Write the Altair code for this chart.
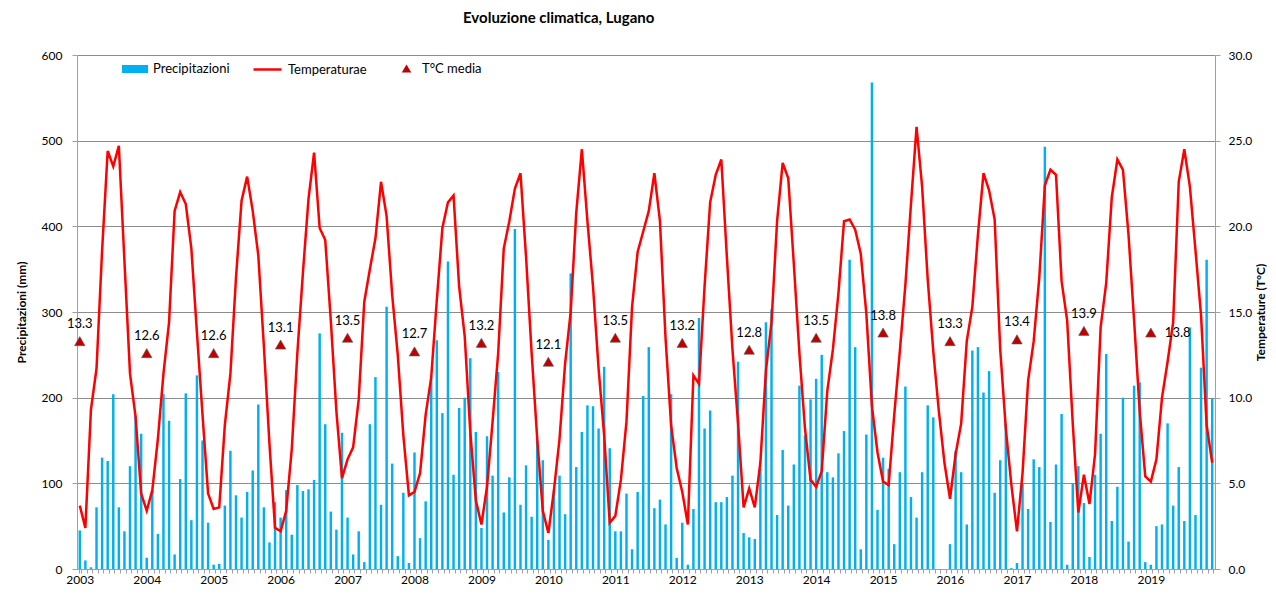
import altair as alt
import pandas as pd

years = list(range(2003, 2020))

# Monthly precipitation (mm)
p2003 = [45, 10, 2, 72, 130, 126, 204, 72, 44, 120, 179, 158]
p2004 = [13, 92, 41, 204, 173, 17, 105, 205, 57, 226, 150, 54]
p2005 = [5, 6, 74, 138, 86, 60, 90, 115, 192, 72, 31, 78]
p2006 = [60, 92, 40, 98, 91, 93, 104, 275, 169, 67, 46, 159]
p2007 = [60, 17, 44, 8, 169, 224, 75, 306, 123, 15, 89, 7]
p2008 = [136, 36, 79, 224, 267, 182, 359, 110, 188, 200, 246, 160]
p2009 = [48, 155, 109, 230, 66, 107, 397, 75, 121, 61, 150, 127]
p2010 = [34, 92, 109, 64, 345, 119, 160, 191, 190, 164, 236, 141]
p2011 = [44, 44, 88, 23, 90, 202, 259, 71, 81, 52, 204, 13]
p2012 = [54, 5, 70, 293, 164, 185, 78, 78, 84, 109, 242, 42]
p2013 = [37, 35, 117, 288, 303, 63, 139, 74, 122, 214, 156, 198]
p2014 = [222, 250, 113, 107, 135, 161, 361, 259, 23, 157, 568, 69]
p2015 = [130, 117, 29, 113, 213, 84, 60, 113, 191, 177, 0, 0]
p2016 = [29, 138, 113, 52, 255, 259, 206, 231, 89, 127, 170, 1]
p2017 = [7, 100, 70, 128, 119, 493, 55, 122, 181, 5, 100, 120]
p2018 = [77, 14, 110, 158, 251, 56, 96, 200, 32, 214, 218, 8]
p2019 = [5, 50, 52, 170, 74, 119, 56, 282, 63, 235, 361, 199]

# Monthly mean temperature (°C)
t2003 = [3.7, 2.4, 9.3, 11.7, 18.6, 24.4, 23.5, 24.7, 18.0, 11.4, 8.9, 4.4]
t2004 = [3.4, 4.6, 7.6, 11.4, 14.4, 20.9, 22.0, 21.3, 18.7, 13.8, 9.0, 4.4]
t2005 = [3.5, 3.6, 8.4, 11.4, 17.0, 21.5, 22.9, 20.9, 18.3, 13.0, 7.3, 2.4]
t2006 = [2.2, 3.4, 7.0, 12.6, 17.3, 21.6, 24.3, 19.9, 19.2, 14.5, 9.2, 5.3]
t2007 = [6.4, 7.1, 9.9, 15.6, 17.5, 19.3, 22.6, 20.6, 16.0, 12.5, 7.8, 4.3]
t2008 = [4.5, 5.6, 9.0, 11.2, 15.7, 19.9, 21.4, 21.8, 16.5, 13.6, 8.0, 4.0]
t2009 = [2.6, 4.8, 8.6, 12.6, 18.7, 20.3, 22.2, 23.1, 18.2, 12.6, 7.6, 3.4]
t2010 = [2.1, 4.6, 7.6, 12.0, 15.0, 20.8, 24.5, 20.3, 16.5, 11.7, 7.8, 2.7]
t2011 = [3.1, 5.2, 8.6, 15.3, 18.5, 19.7, 20.9, 23.1, 20.3, 13.5, 8.4, 5.9]
t2012 = [4.5, 2.6, 11.3, 10.8, 16.5, 21.4, 23.0, 23.9, 18.2, 12.8, 8.5, 3.6]
t2013 = [4.7, 3.6, 6.2, 11.6, 14.4, 20.3, 23.7, 22.8, 17.8, 12.6, 8.2, 5.2]
t2014 = [4.8, 5.7, 10.4, 12.8, 16.1, 20.3, 20.4, 19.8, 18.4, 14.9, 9.5, 6.8]
t2015 = [5.1, 4.9, 9.0, 12.7, 16.6, 21.3, 25.8, 22.3, 16.9, 12.7, 9.2, 6.2]
t2016 = [4.1, 6.7, 8.5, 13.3, 15.3, 19.5, 23.1, 22.1, 20.4, 12.8, 8.2, 4.9]
t2017 = [2.2, 5.6, 11.0, 13.3, 17.0, 22.4, 23.3, 23.0, 16.8, 14.5, 8.5, 3.3]
t2018 = [5.5, 3.8, 6.7, 14.1, 16.7, 21.7, 23.9, 23.3, 19.5, 14.5, 9.2, 5.4]
t2019 = [5.1, 6.4, 10.0, 12.1, 14.4, 22.6, 24.5, 22.3, 18.6, 14.8, 8.4, 6.2]

# Yearly mean temperature
t_media = [13.3, 12.6, 12.6, 13.1, 13.5, 12.7, 13.2, 12.1, 13.5, 13.2, 12.8, 13.5,
           13.8, 13.3, 13.4, 13.9, 13.8]

prec_all = (p2003 + p2004 + p2005 + p2006 + p2007 + p2008 + p2009 + p2010 + p2011
            + p2012 + p2013 + p2014 + p2015 + p2016 + p2017 + p2018 + p2019)
temp_all = (t2003 + t2004 + t2005 + t2006 + t2007 + t2008 + t2009 + t2010 + t2011
            + t2012 + t2013 + t2014 + t2015 + t2016 + t2017 + t2018 + t2019)

df = pd.DataFrame({
    "idx": list(range(len(prec_all))),
    "prec": prec_all,
    "temp": temp_all,
})
dm = pd.DataFrame({
    "idx": [12 * i for i in range(len(years))],
    "year": years,
    "media": t_media,
    "lab": [f"{v:.1f}" for v in t_media],
})

FONT = "Lato"
GRID = "#8c8c8c"
AX = "#a0a0a0"

xax = alt.Axis(
    title="",
    labelExpr="datum.value % 12 == 0 ? '' + (2003 + datum.value / 12) : ''",
    labelAngle=0, labelOverlap=False, labelFontSize=12, labelColor="#000000",
    labelPadding=1, tickBand="extent", tickSize=4, tickColor=AX,
    domainColor=AX, grid=False, labelFont=FONT,
)
xsc = alt.Scale(paddingInner=0.56, paddingOuter=0.28)

left_axis = alt.Axis(
    title="Precipitazioni (mm)", values=[0, 100, 200, 300, 400, 500, 600],
    grid=True, gridColor=GRID, gridWidth=1, domainColor=AX, tickColor=AX,
    tickSize=5, labelPadding=10, labelFontSize=12, labelColor="#000000",
    titleFontSize=12, titleFontWeight="bold", titlePadding=13, titleColor="#000000",
    labelFont=FONT, titleFont=FONT,
)
right_axis = alt.Axis(
    title="Temperature (T°C)", orient="right",
    values=[0, 5, 10, 15, 20, 25, 30], format=".1f",
    grid=False, domainColor=AX, tickColor=AX, tickSize=5, labelPadding=8,
    labelFontSize=12, labelColor="#000000", titleFontSize=12,
    titleFontWeight="bold", titlePadding=16, titleAngle=270, titleColor="#000000",
    labelFont=FONT, titleFont=FONT,
)
ysc_t = alt.Scale(domain=[0, 30])

base = alt.Chart(df)

bars = base.transform_calculate(s1="'Precipitazioni'").mark_bar().encode(
    x=alt.X("idx:O", scale=xsc, axis=xax),
    y=alt.Y("prec:Q", scale=alt.Scale(domain=[0, 600]), axis=left_axis),
    fill=alt.Fill("s1:N", scale=alt.Scale(domain=["Precipitazioni"], range=["#00B0F0"]),
                  legend=alt.Legend(title=None, orient="none", legendX=48, legendY=4,
                                    symbolType="M-1.3,-0.4H1.3V0.4H-1.3Z", symbolSize=400,
                                    symbolStrokeWidth=0, labelFontSize=13, labelFont=FONT,
                                    labelColor="#000000", labelOffset=8)),
)

line = base.transform_calculate(s2="'Temperaturae'").mark_line(strokeWidth=2.5).encode(
    x=alt.X("idx:O", scale=xsc, axis=xax),
    y=alt.Y("temp:Q", scale=ysc_t, axis=right_axis),
    stroke=alt.Stroke("s2:N", scale=alt.Scale(domain=["Temperaturae"], range=["#FF0000"]),
                      legend=alt.Legend(title=None, orient="none", legendX=175, legendY=-1,
                                        symbolType="stroke", symbolSize=784,
                                        symbolStrokeWidth=2.5, labelFontSize=13,
                                        labelFont=FONT, labelColor="#000000", labelOffset=5)),
)

mbase = alt.Chart(dm)
tri = mbase.transform_calculate(s3="'T°C media'").mark_point(
    filled=True, size=110, fill="#C00000", stroke="#5a5a5a", strokeWidth=0.6, opacity=1
).encode(
    x=alt.X("idx:O", scale=xsc, axis=xax),
    y=alt.Y("media:Q", scale=ysc_t, axis=right_axis),
    shape=alt.Shape("s3:N", scale=alt.Scale(domain=["T°C media"], range=["triangle-up"]),
                    legend=alt.Legend(title=None, orient="none", legendX=323, legendY=7,
                                      symbolSize=90, symbolFillColor="#C00000",
                                      symbolStrokeColor="#5a5a5a", symbolStrokeWidth=0.6,
                                      labelFontSize=13, labelFont=FONT,
                                      labelColor="#000000", labelOffset=9)),
)

labs = mbase.transform_filter("datum.year < 2019").mark_text(
    dy=-17, fontSize=13, font=FONT, color="#000000"
).encode(
    x=alt.X("idx:O", scale=xsc, axis=xax),
    y=alt.Y("media:Q", scale=ysc_t, axis=right_axis),
    text="lab:N",
)
labs_last = mbase.transform_filter("datum.year == 2019").mark_text(
    dx=14, align="left", fontSize=13, font=FONT, color="#000000"
).encode(
    x=alt.X("idx:O", scale=xsc, axis=xax),
    y=alt.Y("media:Q", scale=ysc_t, axis=right_axis),
    text="lab:N",
)

temp_layer = alt.layer(line, tri, labs, labs_last)

chart = alt.layer(bars, temp_layer).resolve_scale(
    y="independent"
).properties(
    width=1138, height=514,
    padding={"left": 69, "top": 47, "right": 53, "bottom": 19},
    autosize=alt.AutoSizeParams(type="none"),
    title=alt.TitleParams("Evoluzione climatica, Lugano", anchor="start", frame="group",
                          dx=386, offset=23, fontSize=15, fontWeight="bold",
                          font=FONT, color="#000000"),
).configure_view(stroke=None).configure_axis(labelFont=FONT, titleFont=FONT)

chart.save("out.html", embed_options={"renderer": "svg", "actions": False})
